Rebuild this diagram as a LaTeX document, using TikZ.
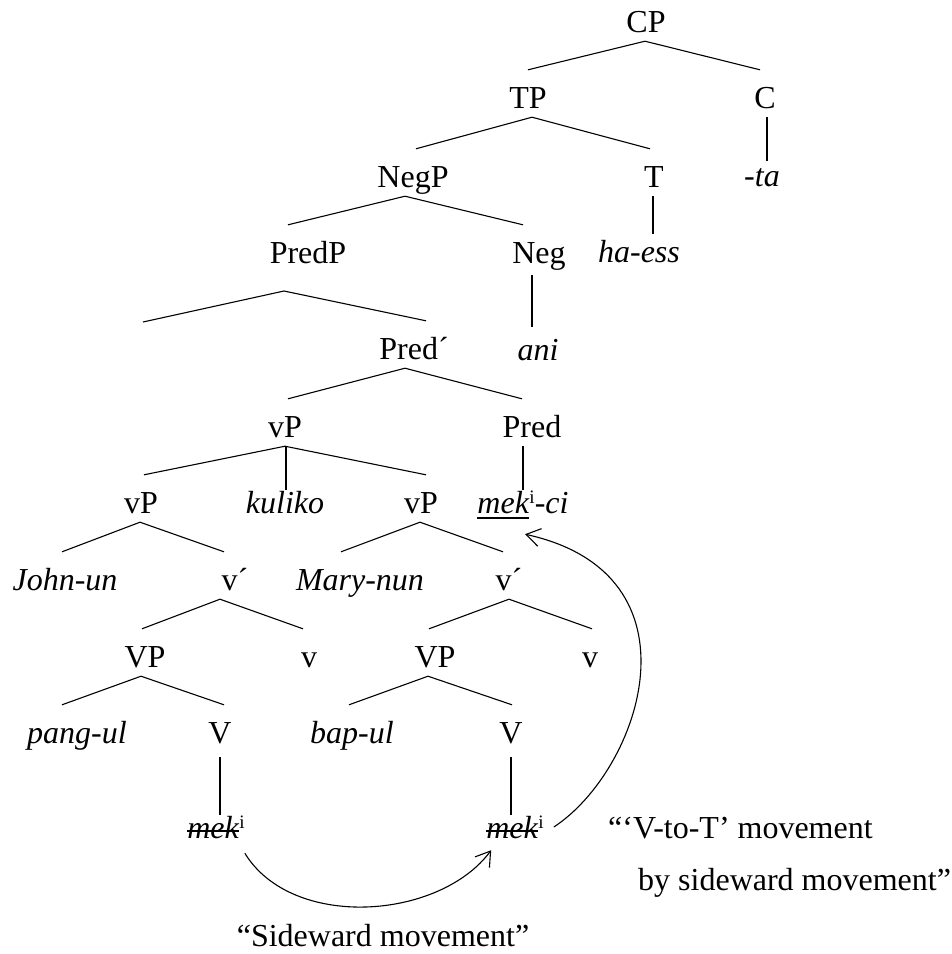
\documentclass[tikz,border=0pt]{standalone}
\usepackage{fontspec}
\setmainfont{Liberation Serif}
\usetikzlibrary{arrows.meta}
\newsavebox\mkbox
\newcommand\strk[1]{\sbox\mkbox{#1}\rlap{\usebox\mkbox}\rule[6.5pt]{\wd\mkbox}{1.5pt}}
\newcommand\undl[1]{\sbox\mkbox{#1}\rlap{\usebox\mkbox}\rule[-6pt]{\wd\mkbox}{1.8pt}}
\newcommand\supi{\raisebox{10pt}{\fontsize{19}{19}\selectfont i}}
\newcommand\treeln[4]{\draw[br] ([xshift=#2pt]#1.south) -- ([xshift=#4pt,yshift=15pt]#3.north);}
\begin{document}
\begin{tikzpicture}[x=1pt,y=-1pt,
  lbl/.style={inner xsep=0pt, inner ysep=1pt, text height=22pt, text depth=8pt, anchor=base, font=\fontsize{32}{38}\selectfont},
  br/.style={line width=1.1pt},
  mv/.style={line width=1.1pt, -{Straight Barb[length=14pt,width=18pt]}}]
\useasboundingbox (0,0) rectangle (952,954);
% nodes
\node[lbl] (CP) at (646,32) {CP};
\node[lbl] (TP) at (528,108) {TP};
\node[lbl] (C) at (765,108) {C};
\node[lbl] (NegP) at (413,187) {NegP};
\node[lbl] (T) at (654,187) {T};
\node[lbl] (ta) at (762,186) {\textit{-ta}};
\node[lbl] (PredP) at (308,263) {PredP};
\node[lbl] (Neg) at (539,263) {Neg};
\node[lbl] (haess) at (639,262) {\textit{ha-ess}};
\node[lbl] (Predbar) at (414,359) {Pred´};
\node[lbl] (ani) at (538,360) {\textit{ani}};
\node[lbl] (vPa) at (285,437) {vP};
\node[lbl] (Pred) at (532,437) {Pred};
\node[lbl] (vPb) at (141,513) {vP};
\node[lbl] (kuliko) at (285,513) {\textit{kuliko}};
\node[lbl] (vPc) at (421,513) {vP};
\node[lbl] (mekci) at (523,513) {\undl{\textit{mek}}\supi\textit{-ci}};
\node[lbl] (John) at (65,590) {\textit{John-un}};
\node[lbl] (vbara) at (235,590) {v´};
\node[lbl] (Mary) at (360,590) {\textit{Mary-nun}};
\node[lbl] (vbarb) at (509,590) {v´};
\node[lbl] (VPa) at (145,667) {VP};
\node[lbl] (va) at (309,667) {v};
\node[lbl] (VPb) at (435,667) {VP};
\node[lbl] (vb) at (590,667) {v};
\node[lbl] (pang) at (77,743) {\textit{pang-ul}};
\node[lbl] (Va) at (220,743) {V};
\node[lbl] (bap) at (352,743) {\textit{bap-ul}};
\node[lbl] (Vb) at (511,743) {V};
\node[lbl] (meka) at (216,838) {\strk{\textit{mek}}\supi};
\node[lbl] (mekb) at (515,838) {\strk{\textit{mek}}\supi};
\node[lbl, anchor=base west] (vt1) at (608,838) {“‘V-to-T’ movement};
\node[lbl, anchor=base west] (vt2) at (638,890) {by sideward movement”};
\node[lbl] (side) at (383,946) {“Sideward movement”};
% branches
\treeln{CP}{-1}{TP}{0}
\treeln{CP}{-1}{C}{-5}
\treeln{TP}{4}{NegP}{3}
\treeln{TP}{4}{T}{-4}
\treeln{NegP}{-8}{PredP}{-20}
\treeln{NegP}{-8}{Neg}{-16}
\coordinate (PA) at (284,291);
\coordinate (PL) at (143,322);
\draw[br] (PL) -- (PA) -- ([xshift=12pt,yshift=15pt]Predbar.north);
\treeln{Predbar}{-9}{vPa}{3}
\treeln{Predbar}{-9}{Pred}{-10}
\treeln{vPa}{0}{vPb}{3}
\treeln{vPa}{0}{vPc}{5}
\draw[br] ([xshift=1pt]vPa.south) -- ([xshift=1pt]kuliko.north);
\treeln{vPb}{-1}{John}{-3}
\treeln{vPb}{-1}{vbara}{-11}
\treeln{vPc}{-1}{Mary}{-19}
\treeln{vPc}{-1}{vbarb}{-6}
\treeln{vbara}{-15}{VPa}{-3}
\treeln{vbara}{-15}{va}{-6}
\treeln{vbarb}{0}{VPb}{-6}
\treeln{vbarb}{0}{vb}{2}
\treeln{VPa}{-4}{pang}{-15}
\treeln{VPa}{-4}{Va}{4}
\treeln{VPb}{-7}{bap}{-3}
\treeln{VPb}{-7}{Vb}{1}
% unary lines
\draw[br] ([xshift=2pt]C.south) -- ([xshift=5pt,yshift=2pt]ta.north);
\draw[br] ([xshift=-1pt]T.south) -- ([xshift=14pt,yshift=5pt]haess.north);
\draw[br] ([xshift=-7pt,yshift=-3pt]Neg.south) -- ([xshift=-6pt,yshift=10pt]ani.north);
\draw[br] ([xshift=-9pt]Pred.south) -- (mekci.north);
\draw[br] ([yshift=-5pt]Va.south) -- (Va.south |- meka.north);
\draw[br] ([yshift=-5pt]Vb.south) -- (Vb.south |- mekb.north);
% movement arrows
\draw[mv] ([yshift=-6pt]meka.south east) .. controls +(47,77) and +(-52,70) .. ([xshift=5pt,yshift=-3pt]mekb.south west);
\draw[mv] ([xshift=10pt,yshift=4pt]mekb.east) .. controls +(87,-57) and +(182,40) .. ([xshift=2pt,yshift=-12pt]mekci.south);
\end{tikzpicture}
\end{document}
